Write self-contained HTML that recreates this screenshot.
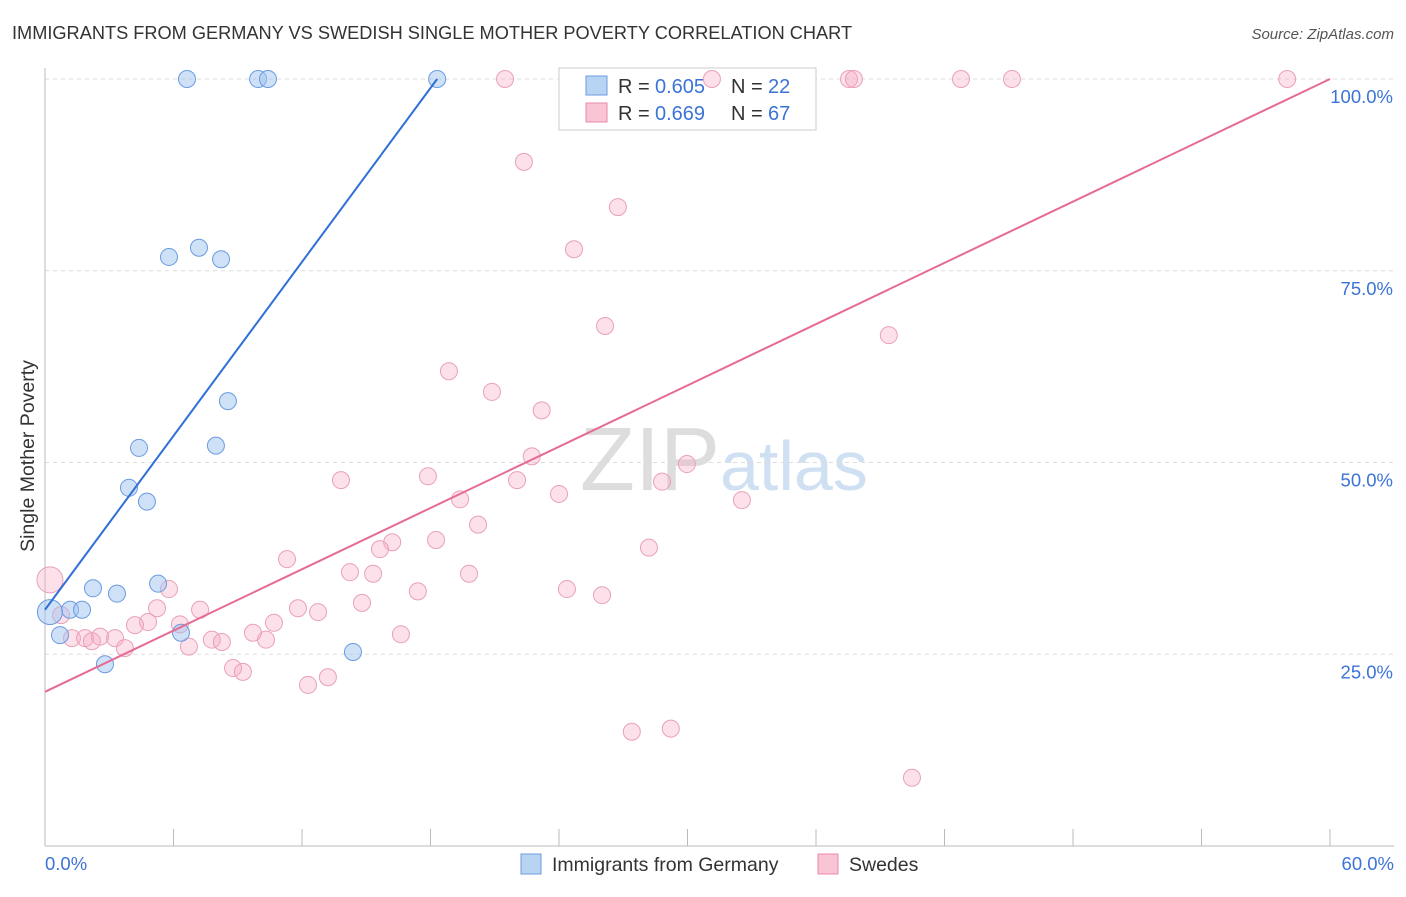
<!DOCTYPE html>
<html><head><meta charset="utf-8"><style>
body{margin:0;background:#fff;font-family:"Liberation Sans",sans-serif}
svg text{font-family:"Liberation Sans",sans-serif}
</style></head><body>
<svg id="c" width="1406" height="892">
<text x="12" y="39" font-size="18.2" fill="#333">IMMIGRANTS FROM GERMANY VS SWEDISH SINGLE MOTHER POVERTY CORRELATION CHART</text>
<text x="1394" y="39" font-size="15" fill="#555" text-anchor="end" font-style="italic">Source: ZipAtlas.com</text>
<text x="720" y="490" font-size="90" fill="#ddd" text-anchor="end" font-family="Liberation Serif">ZIP</text>
<text x="720" y="490" font-size="70" fill="#cfe0f3">atlas</text>
<text x="34" y="456" font-size="19.5" fill="#333" text-anchor="middle" transform="rotate(-90 34 456)">Single Mother Poverty</text>
<g id="grid"></g>
<g>
<rect x="559" y="68" width="257" height="62" fill="#fff" stroke="#ccc"/>
<rect x="586" y="76" width="21" height="19" fill="#b9d3f3" stroke="#6a9be0"/>
<rect x="586" y="103" width="21" height="19" fill="#f9c4d4" stroke="#e98aa8"/>
<text x="618" y="93" font-size="20" fill="#333">R =</text>
<text x="655" y="93" font-size="20" fill="#3b74d6">0.605</text>
<text x="731" y="93" font-size="20" fill="#333">N =</text>
<text x="768" y="93" font-size="20" fill="#3b74d6">22</text>
<text x="618" y="120" font-size="20" fill="#333">R =</text>
<text x="655" y="120" font-size="20" fill="#3b74d6">0.669</text>
<text x="731" y="120" font-size="20" fill="#333">N =</text>
<text x="768" y="120" font-size="20" fill="#3b74d6">67</text>
</g>
<g id="pts"></g><g id="lines"></g>
<g>
<rect x="521" y="854" width="20" height="20" fill="#b9d3f3" stroke="#6a9be0"/>
<text x="552" y="871" font-size="19.5" fill="#333">Immigrants from Germany</text>
<rect x="818" y="854" width="20" height="20" fill="#f9c4d4" stroke="#e98aa8"/>
<text x="849" y="871" font-size="19.5" fill="#333">Swedes</text>
</g>
<text x="45" y="870" font-size="18.5" fill="#3b74d6">0.0%</text>
<text x="1394" y="870" font-size="18.5" fill="#3b74d6" text-anchor="end">60.0%</text>
</svg>
<script>
const yTicks=[25,50,75,100];
const xTicks=[0,6,12,18,24,30,36,42,48,54,60];
const blueX=[6.63,9.95,10.41,18.31,5.79,7.19,8.22,8.54,4.39,7.98,3.92,4.76,5.28,2.24,3.36,1.17,1.73,6.35,0.70,14.38,2.80,0.23];
const blueY=[100,100,100,100,76.8,78.0,76.5,58.0,51.9,52.2,46.7,44.9,34.2,33.6,32.9,30.8,30.8,27.8,27.5,25.3,23.7,30.5];
const pinkX=[21.48,31.14,37.54,37.77,42.77,45.15,58.0,22.36,26.75,24.70,26.15,39.40,18.86,20.87,23.19,22.73,29.97,13.82,17.88,22.04,28.81,24.00,19.38,32.54,20.22,18.26,16.21,15.64,28.20,11.30,14.24,15.32,19.80,5.79,17.41,24.37,26.01,14.80,5.23,11.81,7.24,12.75,10.69,4.81,4.20,6.30,16.62,9.71,0.75,1.26,1.87,2.57,3.27,2.19,3.73,6.72,7.79,8.26,10.32,8.78,9.24,13.21,12.28,27.40,29.22,40.48,0.23];
const pinkY=[100,100,100,100,100,100,100,89.2,83.3,77.8,67.8,66.6,61.9,59.2,56.8,50.8,49.8,47.7,48.2,47.7,47.5,45.9,45.2,45.1,41.9,39.9,39.6,38.7,38.9,37.4,35.7,35.5,35.5,33.5,33.2,33.5,32.7,31.7,31.0,31.0,30.8,30.5,29.1,29.2,28.8,28.9,27.6,27.8,30.1,27.1,27.1,27.3,27.1,26.7,25.8,26.0,26.9,26.6,26.9,23.2,22.7,22.0,21.0,14.9,15.3,8.9,34.7];
const blueR=[8,8,8,8,8,8,8,8,8,8,8,8,8,8,8,8,8,8,8,8,8,12];
const X=v=>45+v/60*1285, Y=v=>846-v/100*767;
const NS='http://www.w3.org/2000/svg';
const mk=(t,a,p)=>{const e=document.createElementNS(NS,t);for(const k in a)e.setAttribute(k,a[k]);p.appendChild(e);return e;};
const g=document.getElementById('grid');
yTicks.forEach(v=>{
 const l=mk('line',{x1:45,x2:1394,y1:Y(v),y2:Y(v),stroke:'#ddd','stroke-dasharray':'4,4'},g);
 
 
 const t=mk('text',{x:1393,y:Y(v)+24,'font-size':18.5,fill:'#3b74d6','text-anchor':'end'},g);t.textContent=v.toFixed(1)+'%';
 
 
});
mk('line',{x1:45,x2:45,y1:68,y2:846,stroke:'#bbb'},g);
mk('line',{x1:45,x2:1394,y1:846,y2:846,stroke:'#bbb'},g);
xTicks.forEach(v=>{const l=mk('line',{x1:X(v),x2:X(v),y1:829,y2:846,stroke:'#bbb'},g);
 
 });
const p=document.getElementById('pts');
pinkX.forEach((x,i)=>{const c=mk('circle',{cx:X(x),cy:Y(pinkY[i]),r:i==pinkX.length-1?13:8.5,fill:'rgba(246,170,195,0.35)',stroke:'#eaa0b8'},p);
 
 });
blueX.forEach((x,i)=>{const c=mk('circle',{cx:X(x),cy:Y(blueY[i]),r:blueR[i]+0.5,fill:'rgba(160,195,240,0.5)',stroke:'#6a9be0'},p);
 
 });
const L=document.getElementById('lines');
const b=mk('line',{x1:X(0),y1:Y(30.8),x2:X(18.31),y2:Y(100),stroke:'#2f6fd6','stroke-width':2},L);


const pk=mk('line',{x1:X(0),y1:Y(20.1),x2:X(60),y2:Y(100),stroke:'#e56b95','stroke-width':2},L);


</script>
</body></html>
